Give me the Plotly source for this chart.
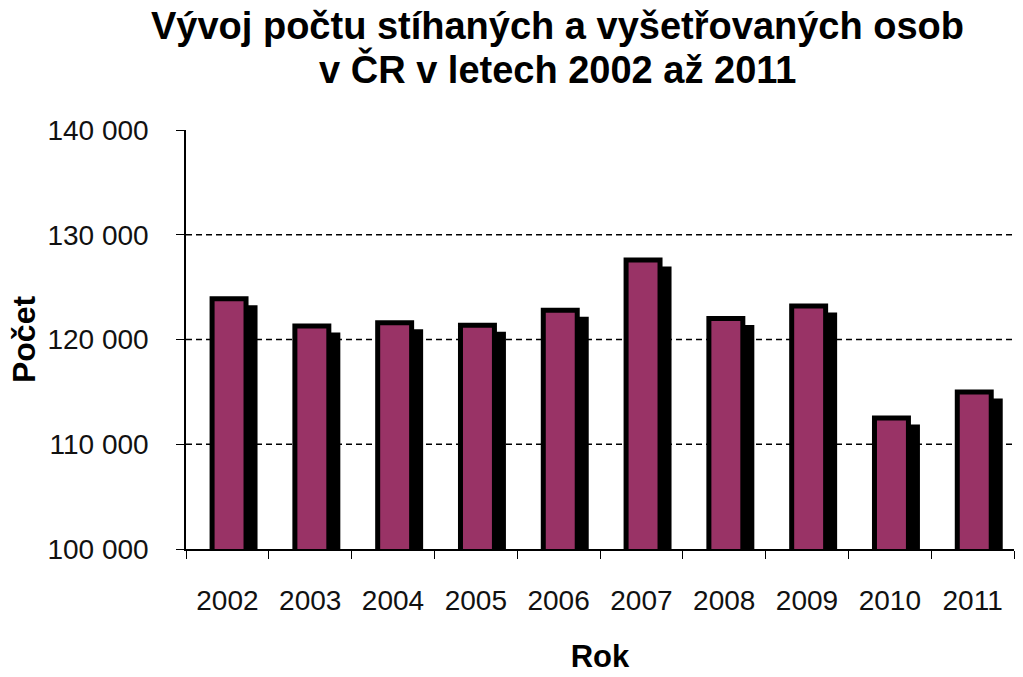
import plotly.graph_objects as go

years = ["2002", "2003", "2004", "2005", "2006", "2007", "2008", "2009", "2010", "2011"]
counts = [123900, 121300, 121600, 121350, 122800, 127600, 122000, 123200, 112500, 115000]
y_ticks = [100000, 110000, 120000, 130000, 140000]
y_ticktext = ["100 000", "110 000", "120 000", "130 000", "140 000"]
grid_vals = [110000, 120000, 130000]
title_lines = ["Vývoj počtu stíhaných a vyšetřovaných osob", "v ČR v letech 2002 až 2011"]

Y_MIN, Y_MAX = 100000, 140000
W, H = 1023, 677
M_L, M_R, M_T, M_B = 186, 9, 130, 128
plot_h = H - M_T - M_B
plot_w = W - M_L - M_R
cat_px = plot_w / len(years)
shadow_px = 9
shadow_dy = shadow_px * (Y_MAX - Y_MIN) / plot_h
shadow_dx = shadow_px / cat_px

PLUM = "#993366"
bar_w = 0.41
bar_off = -0.185

fig = go.Figure()
fig.add_trace(go.Bar(
    x=years, y=[v - shadow_dy for v in counts],
    width=bar_w, offset=bar_off + shadow_dx,
    marker=dict(color="black", line=dict(color="black", width=5)),
    hoverinfo="skip", showlegend=False))
fig.add_trace(go.Bar(
    x=years, y=counts,
    width=bar_w, offset=bar_off,
    marker=dict(color=PLUM, line=dict(color="black", width=5)),
    showlegend=False))

for g in grid_vals:
    fig.add_shape(type="line", xref="paper", x0=0, x1=1, yref="y", y0=g, y1=g,
                  line=dict(color="black", width=1.5, dash="6px,4px"), layer="below")

FONT = "Liberation Sans, Arial, sans-serif"

# title lines as annotations (page y centers)
title_centers = [26, 69]
for txt, py in zip(title_lines, title_centers):
    fig.add_annotation(text=f"<b>{txt}</b>", xref="paper", yref="paper",
                       x=(557 - M_L) / plot_w, y=(H - M_B - py) / plot_h,
                       xanchor="center", yanchor="middle", showarrow=False,
                       font=dict(size=38, color="black", family=FONT))

fig.update_layout(
    width=W, height=H,
    margin=dict(l=M_L, r=M_R, t=M_T, b=M_B),
    paper_bgcolor="white", plot_bgcolor="white",
    barmode="overlay",
    font=dict(family=FONT, color="#111111"),
    xaxis=dict(showline=True, linecolor="black", linewidth=1.5, ticks="outside",
               tickson="boundaries", ticklen=8, tickcolor="black", showgrid=False,
               automargin=False,
               tickfont=dict(size=28, color="#111111"), ticklabelstandoff=26,
               title=dict(text="<b>Rok</b>", font=dict(size=31, color="black"), standoff=30)),
    yaxis=dict(range=[Y_MIN, Y_MAX], tickvals=y_ticks, ticktext=y_ticktext,
               showline=True, linecolor="black", linewidth=1.5, ticks="outside",
               ticklen=8, tickcolor="black", showgrid=False, zeroline=False,
               automargin=False,
               tickfont=dict(size=28, color="#111111"), ticklabelstandoff=22,
               title=dict(text="<b>Počet</b>", font=dict(size=32, color="black"), standoff=2)),
)

fig.write_html("out.html", config={"displayModeBar": False},
               post_script="document.body.style.margin='0';")
